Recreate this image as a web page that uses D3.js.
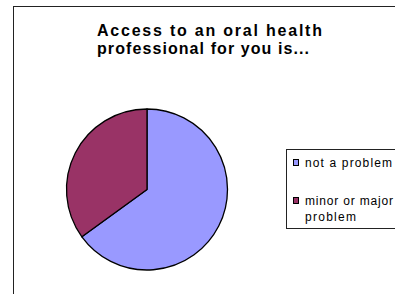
<!DOCTYPE html>
<html><head><meta charset="utf-8">
<script src="https://cdn.jsdelivr.net/npm/d3@7"></script>
<style>html,body{margin:0;padding:0;background:#fff;overflow:hidden}</style>
</head><body>
<script>
const categories = ["not a problem", "minor or major problem"];
const values = [65, 35];
const colors = ["#9999FF", "#993366"];
const titleLines = ["Access to an oral health", "professional for you is..."];
const legendLines = [["not a problem"], ["minor or major", "problem"]];

const W = 395, H = 294;
const svg = d3.select("body").append("svg").attr("width", W).attr("height", H);

// fit a text element to a target width by adjusting letter-spacing
function fit(el, target) {
  const t = el.text();
  const w = el.node().getComputedTextLength();
  el.attr("letter-spacing", (target - w) / (t.length - 1));
}

// outer chart border
svg.append("rect").attr("x", 13.5).attr("y", 6.5).attr("width", 400).attr("height", 300)
  .attr("fill", "#fff").attr("stroke", "#222").attr("stroke-width", 1);

// title
const title = svg.append("g").attr("font-family", "Liberation Sans, Arial, sans-serif")
  .attr("font-weight", "bold").attr("font-size", 16).attr("fill", "#000");
const titleTarget = [225, 212];
titleLines.forEach((t, i) => {
  const el = title.append("text").attr("x", 97).attr("y", 35.7 + i * 18).text(t);
  fit(el, titleTarget[i]);
});

// pie
const cx = 147, cy = 189.5, r = 80.5;
const pie = d3.pie().sort(null).value(d => d)(values);
const arc = d3.arc().innerRadius(0).outerRadius(r);
svg.append("g").attr("transform", `translate(${cx},${cy})`)
  .selectAll("path").data(pie).join("path")
  .attr("d", arc).attr("fill", (d, i) => colors[i])
  .attr("stroke", "#000").attr("stroke-width", 1.3).attr("stroke-linejoin", "round");

// legend
const lg = svg.append("g");
lg.append("rect").attr("x", 286.5).attr("y", 149.5).attr("width", 120).attr("height", 79)
  .attr("fill", "#fff").attr("stroke", "#222").attr("stroke-width", 1);
const itemY = [162.5, 200.5];
const legendTarget = [[87], [88, 51]];
categories.forEach((c, i) => {
  lg.append("rect").attr("x", 293.5).attr("y", itemY[i] - 3).attr("width", 5).attr("height", 6)
    .attr("fill", colors[i]).attr("stroke", "#000").attr("stroke-width", 1);
  legendLines[i].forEach((t, j) => {
    const el = lg.append("text").attr("x", 305).attr("y", itemY[i] + 4.3 + j * 16)
      .attr("font-family", "Liberation Sans, Arial, sans-serif").attr("font-size", 12)
      .attr("fill", "#000").text(t);
    fit(el, legendTarget[i][j]);
  });
});
</script>
</body></html>
